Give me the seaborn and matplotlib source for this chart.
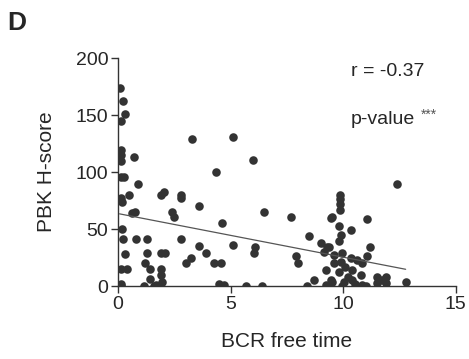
import numpy as np
import pandas as pd
import matplotlib
matplotlib.use("Agg")
import matplotlib.pyplot as plt
import seaborn as sns

# values
bcr_free_time = [
    0.07, 0.22, 0.32, 0.12, 0.12, 0.12, 0.12, 0.26, 0.12, 0.70, 0.90, 0.12, 0.18,
    0.50, 0.74, 0.60, 0.18, 0.22, 0.32, 0.12, 0.41, 0.12, 0.12, 0.81, 1.15, 1.28,
    1.20, 1.30, 1.44, 1.40, 1.60, 1.70, 1.90, 2.06, 1.90, 2.10, 1.90, 1.90, 1.95,
    2.40, 2.50, 2.80, 2.80, 2.80, 3.00, 3.24, 3.30, 3.60, 3.60, 3.90, 4.35, 4.27,
    4.56, 4.50, 4.60, 4.70, 4.60, 5.10, 5.10, 5.70, 6.00, 6.04, 6.10, 6.40, 6.50,
    7.70, 7.90, 8.00, 8.40, 8.50, 8.70, 9.00, 9.35, 9.50, 9.35, 9.50,
    9.85, 9.85, 9.85, 9.85, 9.46, 11.06, 9.82, 10.34, 9.90, 9.82, 11.20, 9.30,
    9.16, 9.60, 9.96, 10.34, 10.60, 10.84, 9.60, 9.90, 10.10, 9.23, 9.82, 10.40,
    10.80, 9.46, 10.05, 10.40, 9.23, 9.96, 10.84, 11.50, 11.90, 11.50, 11.90,
    11.70, 12.77, 12.40, 11.05, 10.50, 10.20, 11.00,
]
pbk_h_score = [
    174, 162, 151, 145, 119, 115, 110, 96, 96, 113, 90, 77, 74,
    80, 65, 64, 50, 41, 28, 15, 15, 2, 0, 41, 0, 41,
    20, 29, 15, 6, 0, 1, 80, 83, 29, 29, 15, 10, 4,
    65, 61, 80, 77, 41, 20, 25, 129, 70, 35, 29, 100, 20,
    20, 2, 0, 1, 55, 36, 131, 0, 111, 29, 34, 0, 65,
    61, 26, 20, 0, 44, 5, 38, 34, 61, 0, 4,
    80, 76, 72, 67, 60, 59, 53, 49, 45, 40, 34, 34,
    30, 27, 29, 25, 23, 20, 20, 21, 17, 14, 12, 14,
    10, 5, 4, 5, 1, 0, 1, 8, 8, 3, 3,
    5, 4, 90, 26, 2, 8, 0,
]

df = pd.DataFrame({"BCR free time": bcr_free_time, "PBK H-score": pbk_h_score})

sns.set_style("ticks")
plt.rcParams["font.family"] = ["Liberation Sans", "DejaVu Sans"]

fig = plt.figure(figsize=(4.69, 3.59), dpi=100)
ax = fig.add_axes([0.2516, 0.203, 0.7204, 0.635])

sns.regplot(data=df, x="BCR free time", y="PBK H-score", ax=ax, ci=None,
            scatter_kws={"s": 38, "color": "#333333", "linewidths": 0, "alpha": 1},
            line_kws={"color": "#555555", "linewidth": 0.9})

ax.set_xlim(0, 15)
ax.set_ylim(0, 200)
ax.set_xticks([0, 5, 10, 15])
ax.set_yticks([0, 50, 100, 150, 200])
ax.tick_params(labelsize=14, length=5, width=1, color="#333333", pad=2)
for s in ["left", "bottom"]:
    ax.spines[s].set_color("#333333")
    ax.spines[s].set_linewidth(1)
sns.despine(ax=ax)
ax.set_xlabel("BCR free time", fontsize=15, labelpad=14)
ax.set_ylabel("PBK H-score", fontsize=15, labelpad=14)

ax.text(0.69, 0.94, "r = -0.37", transform=ax.transAxes, fontsize=14, va="center")
ax.text(0.69, 0.73, "p-value", transform=ax.transAxes, fontsize=14, va="center")
ax.text(0.895, 0.75, "***", transform=ax.transAxes, fontsize=10, va="center", color="#555555")

fig.text(0.015, 0.97, "D", fontsize=19, fontweight="bold", va="top")

fig.savefig("out.png", dpi=100)
